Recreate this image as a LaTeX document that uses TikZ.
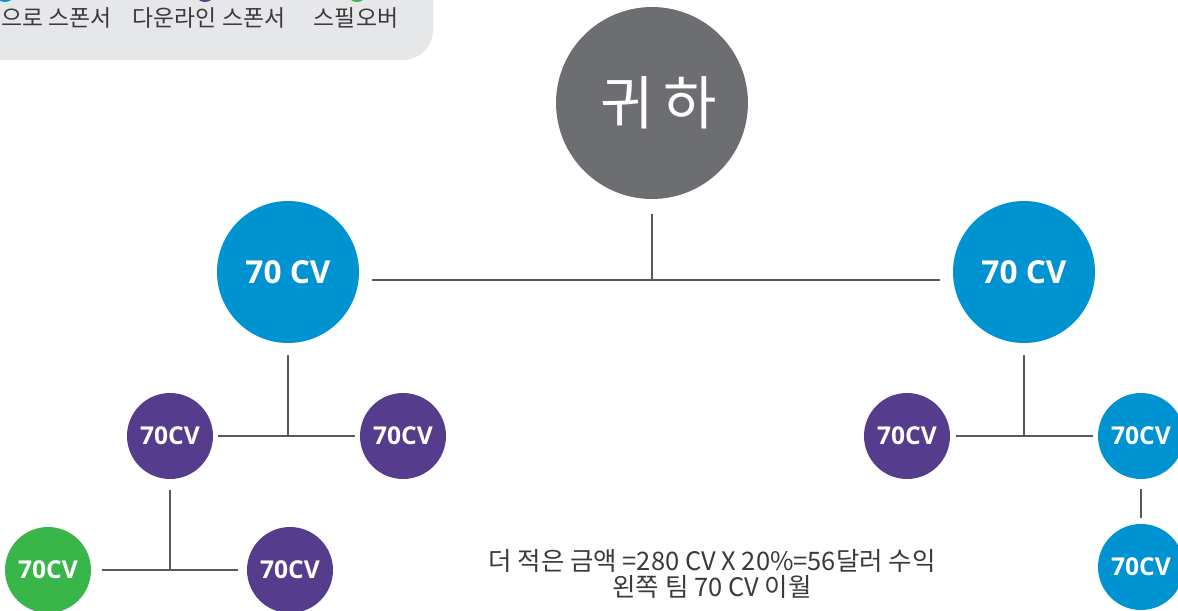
\documentclass[tikz,border=0pt]{standalone}
\usepackage{fontspec}
\setmainfont{Open Sans}
\newfontfamily\krfont{Noto Sans CJK KR}
\definecolor{cvblue}{HTML}{0093D1}
\definecolor{cvpurple}{HTML}{563C8C}
\definecolor{cvgreen}{HTML}{3AB54A}
\definecolor{yougray}{HTML}{6D6E71}
\definecolor{legendgray}{HTML}{E6E7E8}
\definecolor{linegray}{HTML}{58595B}
\definecolor{textgray}{HTML}{3A3A3C}
\tikzset{
  cvbig/.style={circle,fill=cvblue,text=white,inner sep=0pt,minimum size=2.84cm,
    font=\fontsize{18}{20}\selectfont\bfseries},
  cvsmall/.style={circle,text=white,inner sep=0pt,minimum size=1.72cm,
    font=\fontsize{14}{16}\selectfont\bfseries},
  link/.style={draw=linegray,line width=0.9pt},
  keydot/.style={circle,inner sep=0pt,minimum size=0.44cm},
  keytext/.style={text=textgray,font=\krfont\fontsize{13}{14}\selectfont}
}
\begin{document}
\begin{tikzpicture}[x=0.02cm,y=-0.02cm]
\useasboundingbox (0,0) rectangle (1178,610);

\begin{scope}
\clip (0,0) rectangle (1178,610);
\fill[legendgray,rounded corners=0.6cm] (-50,-50) rectangle (433,60);
\node[keydot,fill=cvblue] (keyblue) at (5,-9) {};
\node[keydot,fill=cvpurple] (keypurple) at (205,-9) {};
\node[keydot,fill=cvgreen] (keygreen) at (357,-9) {};
\node[keytext,anchor=west] (txtdirect) at (-5,18) {으로 스폰서};
\node[keytext] (txtdown) at (209,18) {다운라인 스폰서};
\node[keytext] (txtspill) at (356,18) {스필오버};
\end{scope}

\node[circle,fill=yougray,text=white,inner sep=0pt,minimum size=3.84cm,
  font=\krfont\fontsize{33}{35}\selectfont] (you) at (652,103) {\hspace{0.25cm}귀\,하};

\node[cvbig] (cvL) at (288,272) {70 CV};
\node[cvbig] (cvR) at (1024,272) {70 CV};

\node[cvsmall,fill=cvpurple] (cvLL) at (170,436) {70CV};
\node[cvsmall,fill=cvpurple] (cvLR) at (403,436) {70CV};
\node[cvsmall,fill=cvgreen] (cvLLL) at (48,570) {70CV};
\node[cvsmall,fill=cvpurple] (cvLLR) at (290,570) {70CV};

\node[cvsmall,fill=cvpurple] (cvRL) at (907,436) {70CV};
\node[cvsmall,fill=cvblue] (cvRR) at (1141,436) {70CV};
\node[cvsmall,fill=cvblue] (cvRRD) at (1141,567) {70CV};

\coordinate (jtop) at (652,280);
\draw[link] ([yshift=-0.3cm]you.south) -- (jtop);
\draw[link] ([xshift=0.26cm]cvL.east |- jtop) -- ([xshift=-0.26cm]cvR.west |- jtop);

\draw[link] ([yshift=-0.24cm]cvL.south) -- (cvL |- cvLL);
\draw[link] ([xshift=0.1cm]cvLL.east) -- ([xshift=-0.1cm]cvLR.west);
\draw[link] ([yshift=-0.22cm]cvLL.south) -- (cvLL |- cvLLL);
\draw[link] ([xshift=0.22cm]cvLLL.east) -- ([xshift=-0.18cm]cvLLR.west);

\draw[link] ([yshift=-0.24cm]cvR.south) -- (cvR |- cvRL);
\draw[link] ([xshift=0.12cm]cvRL.east) -- ([xshift=-0.1cm]cvRR.west);
\draw[link] ([yshift=-0.2cm]cvRR.south) -- ([yshift=0.12cm]cvRRD.north);

\node[text=textgray,align=center,font=\krfont\fontsize{14.5}{14.5}\selectfont] (note) at (712,574)
  {더 적은 금액 =280 CV X 20\%=56달러 수익\\왼쪽 팀 70 CV 이월};
\end{tikzpicture}
\end{document}
